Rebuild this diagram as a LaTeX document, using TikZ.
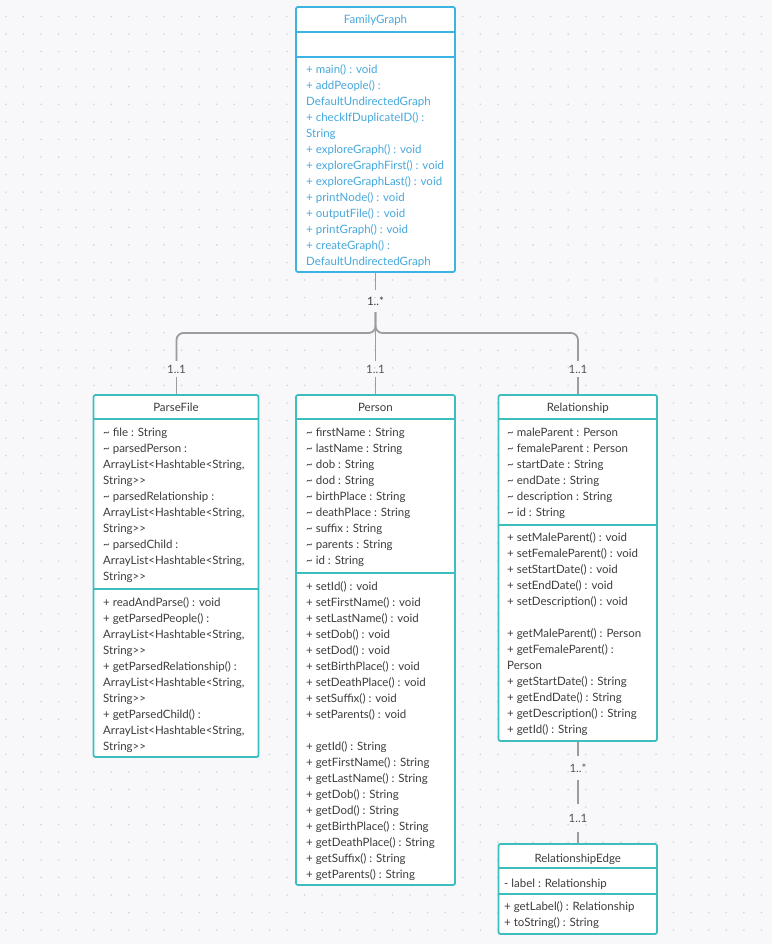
\documentclass[tikz,border=0pt]{standalone}
\usepackage{fontspec}
\setmainfont{Lato}
\newcommand\tld{\textasciitilde}
\definecolor{canvas}{HTML}{F8F8FA}
\definecolor{griddot}{HTML}{D4D4DA}
\definecolor{mainblue}{HTML}{3DB3E3}
\definecolor{mainbluetext}{HTML}{45A8DC}
\definecolor{classteal}{HTML}{3DBEBE}
\definecolor{membertext}{HTML}{3C3C3C}
\definecolor{connector}{HTML}{9C9C9C}
\definecolor{multtext}{HTML}{555555}
\tikzset{
  classbox/.style={draw=classteal, line width=1.8pt, fill=white, rounded corners=2pt, inner sep=0pt},
  mainbox/.style={classbox, draw=mainblue},
  divider/.style={draw=classteal, line width=1.8pt},
  maindivider/.style={divider, draw=mainblue},
  % the invisible rule fixes the first line's top 10pt above its baseline
  members/.style={anchor=north west, align=left, inner sep=0pt, text=membertext,
    font=\fontsize{11.5}{16}\selectfont, execute at begin node={\rule{0pt}{10pt}}},
  classtitle/.style={anchor=base, inner sep=0pt, text=membertext, font=\fontsize{11.5}{16}\selectfont},
  conn/.style={draw=connector, line width=1.8pt},
  mult/.style={inner sep=0pt, text=multtext, font=\fontsize{11.5}{16}\selectfont},
}
\begin{document}
\begin{tikzpicture}[x=1pt,y=-1pt]
\useasboundingbox (0,0) rectangle (772,944);
\fill[canvas] (0,0) rectangle (772,944);
% dotted grid
\fill[griddot] \foreach \i in {0,...,43} {\foreach \j in {0,...,53}
  {(5.9+\i*17.57, 16.45+\j*17.57) circle[radius=0.9pt]}};

% ---- FamilyGraph ----
\node[mainbox, minimum width=159, minimum height=265] (fg) at (375.5,139.5) {};
\draw[maindivider] (fg.west |- 0,32) -- (fg.east |- 0,32);
\draw[maindivider] (fg.west |- 0,57) -- (fg.east |- 0,57);
\node[classtitle, text=mainbluetext] (fgt) at (375.5,24) {FamilyGraph};
\node[members, text=mainbluetext] (fgm) at (306,64.5) {+ main() : void\\+ addPeople() :\\DefaultUndirectedGraph\\+ checkIfDuplicateID() :\\String\\+ exploreGraph() : void\\+ exploreGraphFirst() : void\\+ exploreGraphLast() : void\\+ printNode() : void\\+ outputFile() : void\\+ printGraph() : void\\+ createGraph() :\\DefaultUndirectedGraph};

% ---- ParseFile ----
\node[classbox, minimum width=165, minimum height=362] (pf) at (176,576) {};
\draw[divider] (pf.west |- 0,419) -- (pf.east |- 0,419);
\draw[divider] (pf.west |- 0,589) -- (pf.east |- 0,589);
\node[classtitle] (pft) at (176,411) {ParseFile};
\node[members] (pfa) at (103,427.5) {\tld{} file : String\\\tld{} parsedPerson :\\ArrayList<Hashtable<String,\\String>{}>\\\tld{} parsedRelationship :\\ArrayList<Hashtable<String,\\String>{}>\\\tld{} parsedChild :\\ArrayList<Hashtable<String,\\String>{}>};
\node[members] (pfm) at (103,597.5) {+ readAndParse() : void\\+ getParsedPeople() :\\ArrayList<Hashtable<String,\\String>{}>\\+ getParsedRelationship() :\\ArrayList<Hashtable<String,\\String>{}>\\+ getParsedChild() :\\ArrayList<Hashtable<String,\\String>{}>};

% ---- Person ----
\node[classbox, minimum width=159, minimum height=490] (pe) at (375.5,640) {};
\draw[divider] (pe.west |- 0,419) -- (pe.east |- 0,419);
\draw[divider] (pe.west |- 0,573) -- (pe.east |- 0,573);
\node[classtitle] (pet) at (375.5,411) {Person};
\node[members] (pea) at (306,427.5) {\tld{} firstName : String\\\tld{} lastName : String\\\tld{} dob : String\\\tld{} dod : String\\\tld{} birthPlace : String\\\tld{} deathPlace : String\\\tld{} suffix : String\\\tld{} parents : String\\\tld{} id : String};
\node[members] (pem) at (306,581.5) {+ setId() : void\\+ setFirstName() : void\\+ setLastName() : void\\+ setDob() : void\\+ setDod() : void\\+ setBirthPlace() : void\\+ setDeathPlace() : void\\+ setSuffix() : void\\+ setParents() : void\\[16pt]+ getId() : String\\+ getFirstName() : String\\+ getLastName() : String\\+ getDob() : String\\+ getDod() : String\\+ getBirthPlace() : String\\+ getDeathPlace() : String\\+ getSuffix() : String\\+ getParents() : String};

% ---- Relationship ----
\node[classbox, minimum width=158.5, minimum height=346] (re) at (577.75,568) {};
\draw[divider] (re.west |- 0,419) -- (re.east |- 0,419);
\draw[divider] (re.west |- 0,525) -- (re.east |- 0,525);
\node[classtitle] (ret) at (577.75,411) {Relationship};
\node[members] (rea) at (507,427.5) {\tld{} maleParent : Person\\\tld{} femaleParent : Person\\\tld{} startDate : String\\\tld{} endDate : String\\\tld{} description : String\\\tld{} id : String};
\node[members] (rem) at (507,532.5) {+ setMaleParent() : void\\+ setFemaleParent() : void\\+ setStartDate() : void\\+ setEndDate() : void\\+ setDescription() : void\\[16pt]+ getMaleParent() : Person\\+ getFemaleParent() :\\Person\\+ getStartDate() : String\\+ getEndDate() : String\\+ getDescription() : String\\+ getId() : String};

% ---- RelationshipEdge ----
\node[classbox, minimum width=158.5, minimum height=90] (ed) at (577.75,889) {};
\draw[divider] (ed.west |- 0,868) -- (ed.east |- 0,868);
\draw[divider] (ed.west |- 0,894) -- (ed.east |- 0,894);
\node[classtitle] (edt) at (577.75,862) {RelationshipEdge};
\node[members] (eda) at (504,877.5) {- label : Relationship};
\node[members] (edm) at (504,901.5) {+ getLabel() : Relationship\\+ toString() : String};

% ---- multiplicities and connectors ----
\node[mult, minimum height=22, text=membertext] (mtop) at (375.5,301) {1..*};
\node[mult, minimum height=16] (mpf) at (176.5,369) {1..1};
\node[mult, minimum height=16] (mpe) at (375.5,369) {1..1};
\node[mult, minimum height=16] (mre) at (578,369) {1..1};
\node[mult, minimum height=24] (mrs) at (578,768) {1..*};
\node[mult, minimum height=28] (med) at (578,818) {1..1};
\coordinate (hub) at (375.5,333);

\draw[conn] (fg.south) -- (mtop.north);
\draw[conn, rounded corners=7pt] (mtop.south) -- (hub) -| (mpf.north);
\draw[conn, rounded corners=7pt] (mtop.south) -- (hub) -| (mre.north);
\draw[conn] (mtop.south) -- (mpe.north);
\draw[conn] (mpf.south) -- (pf.north -| mpf.south);
\draw[conn] (mpe.south) -- (pe.north);
\draw[conn] (mre.south) -- (re.north -| mre.south);
\draw[conn] (re.south -| mrs.north) -- (mrs.north);
\draw[conn] (mrs.south) -- (med.north);
\draw[conn] (med.south) -- (ed.north -| med.south);
\end{tikzpicture}
\end{document}
